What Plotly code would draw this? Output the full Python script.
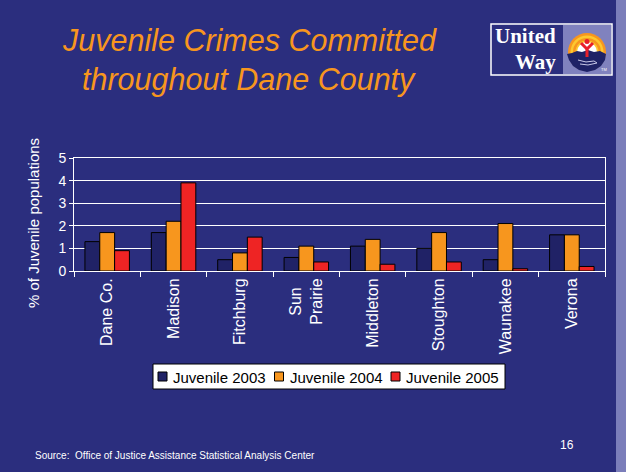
import plotly.graph_objects as go

# Juvenile crime rates by community (% of juvenile population)
communities = ["Dane Co.", "Madison", "Fitchburg", "Sun&nbsp;&nbsp;<br>Prairie",
               "Middleton", "Stoughton", "Waunakee", "Verona"]
juv_2003 = [1.3, 1.7, 0.5, 0.6, 1.1, 1.0, 0.5, 1.6]
juv_2004 = [1.7, 2.2, 0.8, 1.1, 1.4, 1.7, 2.1, 1.6]
juv_2005 = [0.9, 3.9, 1.5, 0.4, 0.3, 0.4, 0.1, 0.2]
series_names = ["Juvenile 2003", "Juvenile 2004", "Juvenile 2005"]
y_ticks = [0, 1, 2, 3, 4, 5]

W, H = 626, 472
PL, PR, PT, PB = 74, 605, 158, 271  # plot area in pixels
BG = "#2B2E7E"
ORANGE = "#F7961E"
NAVY_BAR = "#202266"
RED = "#EE2424"
series_colors = [NAVY_BAR, ORANGE, RED]
FONT = "Liberation Sans, Arial"


def px(x):
    return (x - PL) / (PR - PL)


def py(y):
    return (PB - y) / (PB - PT)


fig = go.Figure()
for name, vals, col in zip(series_names, [juv_2003, juv_2004, juv_2005], series_colors):
    fig.add_trace(go.Bar(
        x=communities, y=vals, name=name,
        marker=dict(color=col, line=dict(color="#000000", width=1)),
    ))

shapes = []
annotations = []

# light strip along right edge
shapes.append(dict(type="rect", xref="paper", yref="paper",
                   x0=px(616), x1=px(W + 2), y0=py(-2), y1=py(H + 2),
                   fillcolor="#7B7EBA", line=dict(width=0), layer="below"))

# United Way logo block
shapes.append(dict(type="rect", xref="paper", yref="paper",
                   x0=px(491), x1=px(612), y0=py(75), y1=py(24),
                   fillcolor="#2B2E7E", line=dict(color="#FFFFFF", width=1.5)))
shapes.append(dict(type="rect", xref="paper", yref="paper",
                   x0=px(563), x1=px(611), y0=py(74), y1=py(25),
                   fillcolor="#8082BE", line=dict(width=0)))
cx, cy = 587, 52
for r, col in [(19, ORANGE), (16.5, "#FDC82F"), (14, ORANGE),
               (11.5, "#FDC82F"), (10, "#FFFFFF")]:
    shapes.append(dict(type="circle", xref="paper", yref="paper",
                       x0=px(cx - r), x1=px(cx + r), y0=py(cy + r), y1=py(cy - r),
                       fillcolor=col, line=dict(width=0)))
# hill / hand at bottom of emblem
pts = [(567, 54), (572, 53), (577, 51), (582, 52), (588, 50), (594, 52),
       (600, 51), (606, 54), (605, 60), (601, 66), (595, 70), (587, 72),
       (579, 70), (573, 66), (569, 60)]
path = "M " + " L ".join(f"{px(a):.5f},{py(b):.5f}" for a, b in pts) + " Z"
shapes.append(dict(type="path", xref="paper", yref="paper", path=path,
                   fillcolor="#1E2266", line=dict(width=0)))
hand = [(578, 60), (586, 62), (594, 61), (597, 63), (588, 65), (580, 64)]
path2 = "M " + " L ".join(f"{px(a):.5f},{py(b):.5f}" for a, b in hand)
shapes.append(dict(type="path", xref="paper", yref="paper", path=path2,
                   line=dict(color="#C8C8E8", width=1)))
# person figure
for (a, b, c, d) in [(581, 43, 587, 49), (593, 43, 587, 49), (587, 49, 587, 57)]:
    shapes.append(dict(type="line", xref="paper", yref="paper",
                       x0=px(a), y0=py(b), x1=px(c), y1=py(d),
                       line=dict(color="#E8202A", width=3)))
shapes.append(dict(type="circle", xref="paper", yref="paper",
                   x0=px(584.5), x1=px(589.5), y0=py(44), y1=py(39),
                   fillcolor="#E8202A", line=dict(width=0)))

# legend box with swatches
shapes.append(dict(type="rect", xref="paper", yref="paper",
                   x0=px(153), x1=px(505), y0=py(389), y1=py(364),
                   fillcolor="#FFFFFF", line=dict(color="#000000", width=1)))
for i, (name, col) in enumerate(zip(series_names, series_colors)):
    x0 = 158 + i * 116.5
    shapes.append(dict(type="rect", xref="paper", yref="paper",
                       x0=px(x0), x1=px(x0 + 9), y0=py(381), y1=py(372),
                       fillcolor=col, line=dict(color="#000000", width=1)))
    annotations.append(dict(text=name, x=px(x0 + 13), y=py(377), xref="paper",
                            yref="paper", showarrow=False, xanchor="left",
                            yanchor="middle",
                            font=dict(family=FONT, size=15, color="#000000")))

annotations += [
    dict(text="<i>Juvenile Crimes Committed</i>", x=px(249), y=py(40),
         xref="paper", yref="paper", showarrow=False, xanchor="center", yanchor="middle",
         font=dict(family=FONT, size=30.5, color=ORANGE)),
    dict(text="<i>throughout Dane County</i>", x=px(249), y=py(79),
         xref="paper", yref="paper", showarrow=False, xanchor="center", yanchor="middle",
         font=dict(family=FONT, size=30.5, color=ORANGE)),
    dict(text="% of Juvenile populations", x=px(33), y=py(223), textangle=-90,
         xref="paper", yref="paper", showarrow=False, xanchor="center", yanchor="middle",
         font=dict(family=FONT, size=15, color="#FFFFFF")),
    dict(text="Source:  Office of Justice Assistance Statistical Analysis Center",
         x=px(33), y=py(455), xref="paper", yref="paper", showarrow=False,
         xanchor="left", yanchor="middle",
         font=dict(family=FONT, size=10, color="#FFFFFF")),
    dict(text="16", x=px(567), y=py(445), xref="paper", yref="paper", showarrow=False,
         xanchor="center", yanchor="middle",
         font=dict(family=FONT, size=12, color="#FFFFFF")),
    dict(text="<b>United</b>", x=px(557), y=py(49), xref="paper", yref="paper",
         showarrow=False, xanchor="right", yanchor="bottom", borderpad=0,
         font=dict(family="Liberation Serif, serif", size=21, color="#FFFFFF")),
    dict(text="<b>Way</b>", x=px(557), y=py(49), xref="paper", yref="paper",
         showarrow=False, xanchor="right", yanchor="top", borderpad=0,
         font=dict(family="Liberation Serif, serif", size=21, color="#FFFFFF")),
    dict(text="TM", x=px(604), y=py(70), xref="paper", yref="paper",
         showarrow=False, xanchor="center", yanchor="middle",
         font=dict(family=FONT, size=4, color="#FFFFFF")),
]

fig.update_layout(
    width=W, height=H,
    margin=dict(l=PL, r=W - PR, t=PT, b=H - PB, pad=0),
    paper_bgcolor=BG, plot_bgcolor=BG,
    barmode="group", bargap=0.33, bargroupgap=0,
    font=dict(family=FONT, color="#FFFFFF", size=14),
    showlegend=False,
    shapes=shapes,
    annotations=annotations,
)
fig.update_xaxes(
    tickangle=-90, tickson="boundaries", ticks="outside", ticklen=5,
    tickcolor="#FFFFFF", showline=True, linecolor="#FFFFFF", linewidth=1,
    mirror=True, showgrid=False,
    tickfont=dict(size=16, color="#FFFFFF"),
)
fig.update_yaxes(
    range=[0, 5], tickvals=y_ticks, ticks="outside", ticklen=4,
    tickcolor="#FFFFFF", showline=True, linecolor="#FFFFFF", linewidth=1,
    mirror=True, showgrid=True, gridcolor="#FFFFFF", gridwidth=1,
    zeroline=False, tickfont=dict(size=14, color="#FFFFFF"),
)

fig.write_html("out.html")
